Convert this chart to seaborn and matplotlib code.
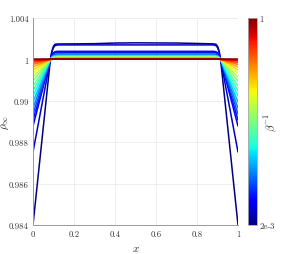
import numpy as np
import pandas as pd
import matplotlib
matplotlib.use('Agg')
import matplotlib.pyplot as plt
from matplotlib.colors import LogNorm
import seaborn as sns

beta_inv = [0.002, 0.003, 0.004, 0.005, 0.007, 0.01, 0.014, 0.02, 0.027, 0.037,
            0.05, 0.07, 0.1, 0.14, 0.19, 0.27, 0.37, 0.5, 0.7, 1.0]
# rho at the walls (x=0 and x=1)
rho_edge = [0.984, 0.99105, 0.99356, 0.99414, 0.99472, 0.9953, 0.99588, 0.99646, 0.99695, 0.99743,
            0.99791, 0.9983, 0.99869, 0.99898, 0.99927, 0.99951, 0.9997, 0.99985, 0.99994, 1.0]
# rho in the bulk
rho_bulk = [1.00154, 1.0014, 1.00078, 1.00067, 1.00052, 1.00043, 1.00037, 1.00032, 1.00028, 1.00025,
            1.00022, 1.0002, 1.00017, 1.00014, 1.00011, 1.00008, 1.00006, 1.00004, 1.00002, 1.0]
# bulk sample points and small ripple on the lowest-temperature curve
x_bulk = [0.12, 0.2, 0.3, 0.4, 0.5, 0.6, 0.7, 0.8, 0.88]
ripple = [-0.00005, -0.00004, -0.00002, 0.00004, 0.00006, 0.00005, 0.00004, 0.0, -0.00004]
# boundary layer: all curves pass through rho=1 at x=0.085 / 0.915
x_left = [0.0, 0.085, 0.092, 0.099, 0.107]
x_right = [0.893, 0.901, 0.908, 0.915, 1.0]
rise = [0.5, 0.8, 0.95]

rows = []
for k, b in enumerate(beta_inv):
    d = rho_bulk[k] - 1
    ys = [rho_edge[k], 1.0] + [1 + f * d for f in rise]
    xs = list(x_left)
    for j, xb in enumerate(x_bulk):
        xs.append(xb)
        ys.append(rho_bulk[k] + (ripple[j] if k == 0 else 0.0))
    xs += x_right
    ys += [1 + f * d for f in rise[::-1]] + [1.0, rho_edge[k]]
    for xv, yv in zip(xs, ys):
        rows.append((b, xv, yv))
df = pd.DataFrame(rows, columns=['beta', 'x', 'rho'])

sns.set_style('white')
plt.rcParams['mathtext.fontset'] = 'cm'
plt.rcParams['font.family'] = ['cmr10', 'DejaVu Serif']
plt.rcParams['axes.formatter.use_mathtext'] = True

fig = plt.figure(figsize=(2.83, 2.55), dpi=100)
ax = fig.add_axes([0.1166, 0.1137, 0.7244, 0.8118])
cax = fig.add_axes([0.876, 0.1137, 0.032, 0.8118])

jet = matplotlib.colormaps['jet']
norm = LogNorm(vmin=0.002, vmax=1.0)
sns.lineplot(data=df, x='x', y='rho', hue='beta', palette=jet, hue_norm=norm,
             estimator=None, sort=False, legend=False, lw=1.1, ax=ax)

ax.set_xlim(0, 1)
ax.set_ylim(0.984, 1.004)
ax.set_xticks([0, 0.2, 0.4, 0.6, 0.8, 1])
ax.set_xticklabels(['0', '0.2', '0.4', '0.6', '0.8', '1'])
ax.set_yticks([0.984, 0.988, 0.992, 0.996, 1.0, 1.004])
ax.set_yticklabels(['0.984', '0.986', '0.988', '0.99', '1', '1.004'])
ax.tick_params(labelsize=6.3, length=0, pad=3, colors='#333333')
ax.grid(True, color='#ebebeb', lw=0.6)
for s in ['top', 'right']:
    ax.spines[s].set_visible(False)
for s in ['left', 'bottom']:
    ax.spines[s].set_color('#999999')
    ax.spines[s].set_linewidth(0.7)
ax.set_xlabel('$x$', fontsize=8)
ax.xaxis.set_label_coords(0.5, -0.09)
ax.set_ylabel(r'$\rho_\infty$', fontsize=8)
ax.yaxis.set_label_coords(-0.105, 0.5)

sm = matplotlib.cm.ScalarMappable(norm=norm, cmap=jet)
cb = fig.colorbar(sm, cax=cax)
cb.outline.set_edgecolor('#aaaaaa')
cb.outline.set_linewidth(0.6)
cb.ax.minorticks_off()
cb.set_ticks([0.002, 1.0])
cb.set_ticklabels(['2e-3', '1'])
cb.ax.tick_params(labelsize=6.3, length=0, pad=2, colors='#333333')
cb.set_label(r'$\beta^{-1}$', fontsize=8)
cb.ax.yaxis.set_label_coords(1.6, 0.5)

fig.savefig('out.png', dpi=100)
